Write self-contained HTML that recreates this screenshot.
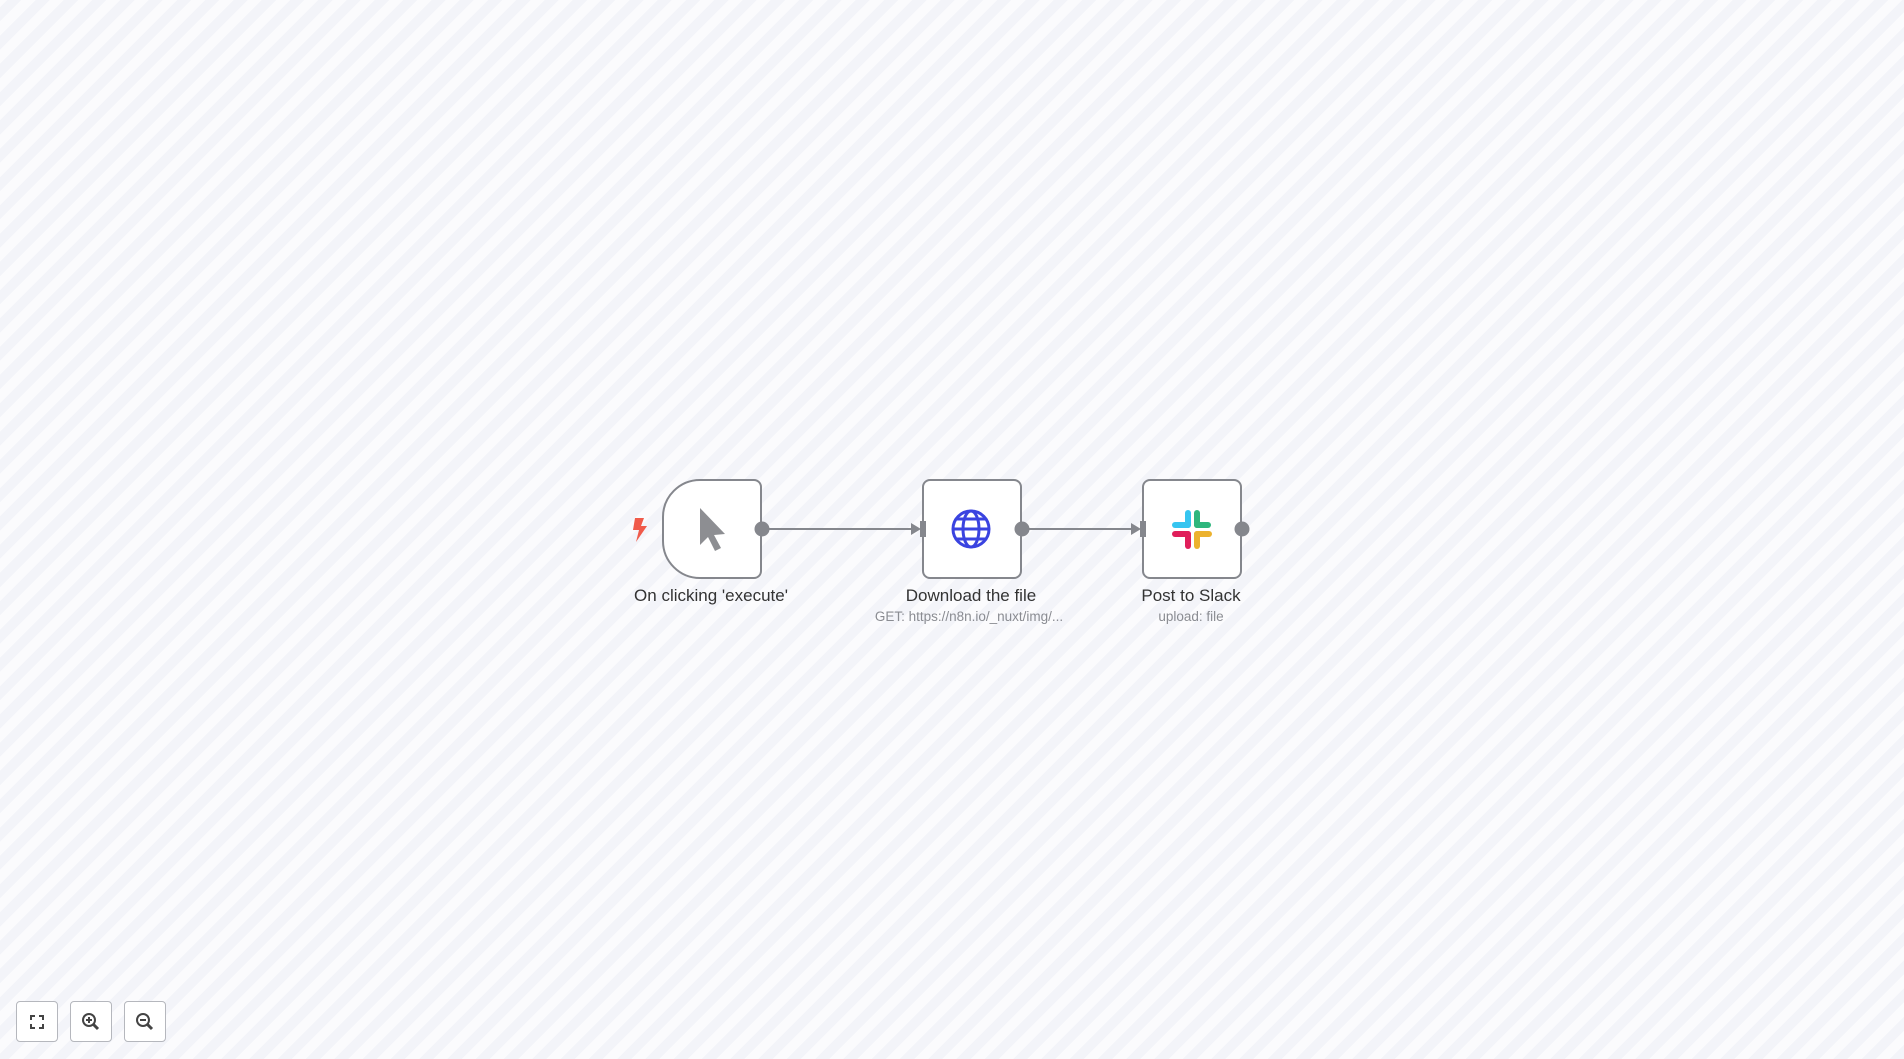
<!DOCTYPE html>
<html><head><meta charset="utf-8"><style>
html,body{margin:0;padding:0;width:1904px;height:1059px;overflow:hidden;font-family:"Liberation Sans",sans-serif;}
body{background:repeating-linear-gradient(-45deg,#f3f4f9 0px,#f3f4f9 10px,#fbfbfd 10px,#fbfbfd 20px);}
.node{position:absolute;top:479px;width:96px;height:96px;background:#fff;border:2px solid #85878d;border-radius:8px;box-sizing:content-box;}
.lbl{position:absolute;width:300px;text-align:center;font-size:17px;color:#333;top:586px;}
.sub{position:absolute;width:300px;text-align:center;font-size:13.5px;color:#8a8c92;top:609px;}
.btn{position:absolute;top:1001px;width:42px;height:41px;background:#fff;border:1px solid #b5b7bd;border-radius:4px;box-sizing:border-box;}
</style></head><body>
<svg width="1904" height="1059" style="position:absolute;left:0;top:0">
<line x1="761" y1="529" x2="914" y2="529" stroke="#85878d" stroke-width="2"/>
<polygon points="911,523 921,529 911,535" fill="#85878d"/>
<line x1="1021" y1="529" x2="1133" y2="529" stroke="#85878d" stroke-width="2"/>
<polygon points="1131,523 1141,529 1131,535" fill="#85878d"/>
</svg>
<div class="node" style="left:662px;border-radius:38px 8px 8px 38px;"></div>
<div class="node" style="left:922px;"></div>
<div class="node" style="left:1142px;"></div>
<svg width="1904" height="1059" style="position:absolute;left:0;top:0">
<circle cx="762" cy="529" r="7.5" fill="#85878d"/>
<circle cx="1022" cy="529" r="7.5" fill="#85878d"/>
<circle cx="1242" cy="529" r="7.5" fill="#85878d"/>
<rect x="920" y="521" width="6" height="16" fill="#85878d"/>
<rect x="1140" y="521" width="6" height="16" fill="#85878d"/>
<polygon points="635,518 644,518 641,526 647,526 636,542 639,530 633,530" fill="#f05a4a"/>
<polygon points="700,508 700,545 708,537 715,551 721,548 714,535 725,534" fill="#8d8e92"/>
<g fill="none" stroke="#3a43e0" stroke-width="3">
<circle cx="971" cy="529" r="18"/>
<ellipse cx="971" cy="529" rx="8" ry="18"/>
<line x1="953" y1="529" x2="989" y2="529"/>
<path d="M956 519 H986 M956 539 H986"/>
</g>
<g stroke-linecap="round" stroke-width="6">
<line x1="1188" y1="513" x2="1188" y2="525" stroke="#36c5f0"/>
<line x1="1175" y1="525" x2="1188" y2="525" stroke="#36c5f0"/>
<line x1="1197" y1="513" x2="1197" y2="525" stroke="#2eb67d"/>
<line x1="1197" y1="525" x2="1208" y2="525" stroke="#2eb67d"/>
<line x1="1175" y1="534" x2="1188" y2="534" stroke="#e01e5a"/>
<line x1="1188" y1="534" x2="1188" y2="546" stroke="#e01e5a"/>
<line x1="1197" y1="534" x2="1209" y2="534" stroke="#ecb22e"/>
<line x1="1197" y1="534" x2="1197" y2="546" stroke="#ecb22e"/>
</g>
</svg>
<div class="lbl" style="left:561px;">On clicking 'execute'</div>
<div class="lbl" style="left:821px;">Download the file</div>
<div class="sub" style="left:819px;">GET: https://n8n.io/_nuxt/img/...</div>
<div class="lbl" style="left:1041px;">Post to Slack</div>
<div class="sub" style="left:1041px;">upload: file</div>
<div class="btn" style="left:16px;"><svg width="40" height="40"><g fill="none" stroke="#444" stroke-width="2"><path d="M14 18V14H18M22 14H26V18M26 22V26H22M18 26H14V22"/></g></svg></div>
<div class="btn" style="left:70px;"><svg width="40" height="40"><g fill="none" stroke="#444" stroke-width="2"><circle cx="18" cy="18" r="6"/><line x1="22" y1="22" x2="27" y2="27" stroke-width="3"/><path d="M15 18H21M18 15V21"/></g></svg></div>
<div class="btn" style="left:124px;"><svg width="40" height="40"><g fill="none" stroke="#444" stroke-width="2"><circle cx="18" cy="18" r="6"/><line x1="22" y1="22" x2="27" y2="27" stroke-width="3"/><path d="M15 18H21"/></g></svg></div>
</body></html>
